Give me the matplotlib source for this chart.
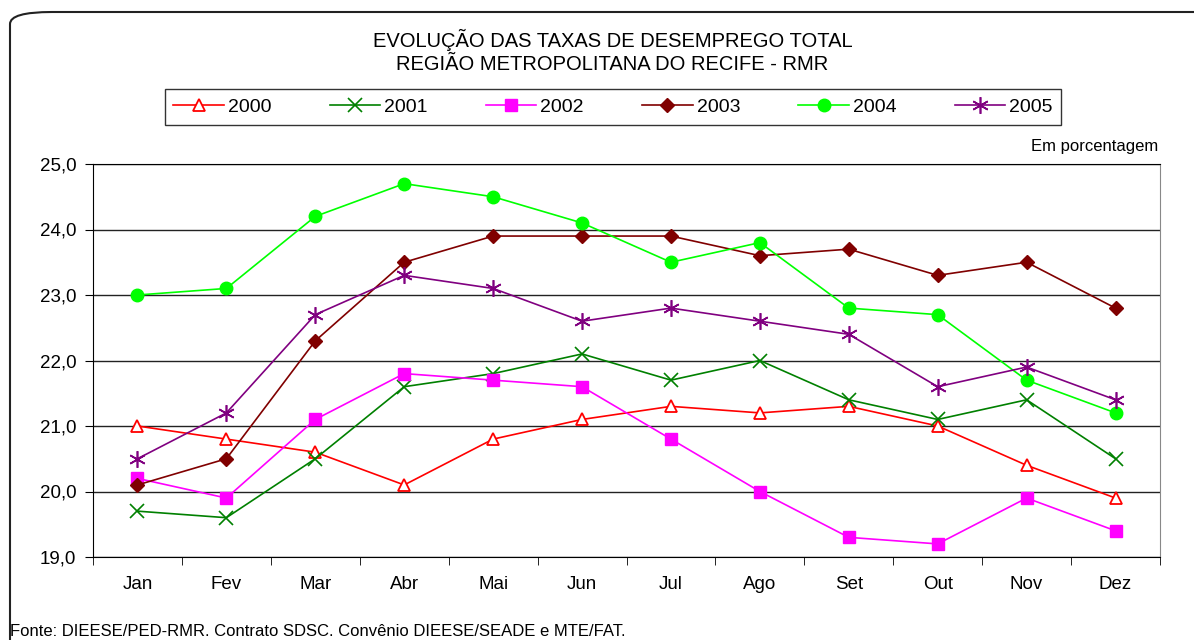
# Taxas de desemprego total - RMR, 2000 a 2005

import matplotlib
matplotlib.use('Agg')
import matplotlib.pyplot as plt
from matplotlib.patches import FancyBboxPatch
from matplotlib.ticker import FixedLocator, FuncFormatter

plt.rcParams['font.family'] = ['Liberation Sans', 'DejaVu Sans']

meses = ['Jan', 'Fev', 'Mar', 'Abr', 'Mai', 'Jun', 'Jul', 'Ago', 'Set', 'Out', 'Nov', 'Dez']

t2000 = [21.0, 20.8, 20.6, 20.1, 20.8, 21.1, 21.3, 21.2, 21.3, 21.0, 20.4, 19.9]
t2001 = [19.7, 19.6, 20.5, 21.6, 21.8, 22.1, 21.7, 22.0, 21.4, 21.1, 21.4, 20.5]
t2002 = [20.2, 19.9, 21.1, 21.8, 21.7, 21.6, 20.8, 20.0, 19.3, 19.2, 19.9, 19.4]
t2003 = [20.1, 20.5, 22.3, 23.5, 23.9, 23.9, 23.9, 23.6, 23.7, 23.3, 23.5, 22.8]
t2004 = [23.0, 23.1, 24.2, 24.7, 24.5, 24.1, 23.5, 23.8, 22.8, 22.7, 21.7, 21.2]
t2005 = [20.5, 21.2, 22.7, 23.3, 23.1, 22.6, 22.8, 22.6, 22.4, 21.6, 21.9, 21.4]

fig = plt.figure(figsize=(11.94, 6.4), dpi=100)

# moldura arredondada
moldura = FancyBboxPatch((10 / 1194, -0.05), 1.05, 1 - 12 / 640 + 0.05,
                         boxstyle='round,pad=0,rounding_size=0.035',
                         transform=fig.transFigure, fill=False,
                         edgecolor='#222222', linewidth=1.5,
                         mutation_aspect=640 / 1194)
fig.patches.append(moldura)

ax = fig.add_axes([93 / 1194, 1 - 557 / 640, (1160 - 93) / 1194, (557 - 164) / 640])

x = list(range(len(meses)))
ax.plot(x, t2000, color='red', lw=1.2, marker='^', ms=9, mfc='white', mec='red', mew=1.3, label='2000')
ax.plot(x, t2001, color='#008000', lw=1.2, marker='x', ms=10, mew=1.2, label='2001')
ax.plot(x, t2002, color='#FF00FF', lw=1.2, marker='s', ms=8, label='2002')
ax.plot(x, t2003, color='#800000', lw=1.2, marker='D', ms=7, label='2003')
ax.plot(x, t2004, color='#00FF00', lw=1.2, marker='o', ms=9, label='2004')
ax.plot(x, t2005, color='#800080', lw=1.2, marker=(6, 2, 0), ms=12, mew=1.2, label='2005')

ax.set_xlim(-0.5, 11.5)
ax.set_ylim(19, 25)
ax.set_yticks([19, 20, 21, 22, 23, 24, 25])
ax.yaxis.set_major_formatter(FuncFormatter(lambda v, p: f'{v:.1f}'.replace('.', ',')))
ax.grid(axis='y', color='#222222', lw=1)
ax.set_axisbelow(True)

ax.set_xticks(x)
ax.set_xticklabels(meses)
ax.tick_params(axis='x', which='major', length=0, pad=14, labelsize=13.5)
ax.xaxis.set_minor_locator(FixedLocator([i + 0.5 for i in range(-1, 12)]))
ax.tick_params(axis='x', which='minor', length=6, direction='out')
ax.tick_params(axis='y', length=6, direction='out', labelsize=13.5, pad=6)

ax.spines['right'].set_color('#888888')
ax.spines['top'].set_color('black')

fig.text(0.513, 1 - 40 / 640, 'EVOLUÇÃO DAS TAXAS DE DESEMPREGO TOTAL', ha='center', va='center', fontsize=14.5)
fig.text(0.513, 1 - 64 / 640, 'REGIÃO METROPOLITANA DO RECIFE - RMR', ha='center', va='center', fontsize=14.5)

leg = fig.legend(loc='center', bbox_to_anchor=(613 / 1194, 1 - 107 / 640), ncol=6,
                 fontsize=14, frameon=True, fancybox=False, edgecolor='black',
                 handlelength=2.6, columnspacing=3.0, handletextpad=0.2, borderpad=0.45,
                 borderaxespad=0)
leg.get_frame().set_linewidth(1)

fig.text(1158 / 1194, 1 - 146 / 640, 'Em porcentagem', ha='right', va='center', fontsize=12)
fig.text(10 / 1194, 1 - 632 / 640, 'Fonte: DIEESE/PED-RMR. Contrato SDSC. Convênio DIEESE/SEADE e MTE/FAT.',
         ha='left', va='center', fontsize=12)

fig.savefig('out.png', dpi=100)
